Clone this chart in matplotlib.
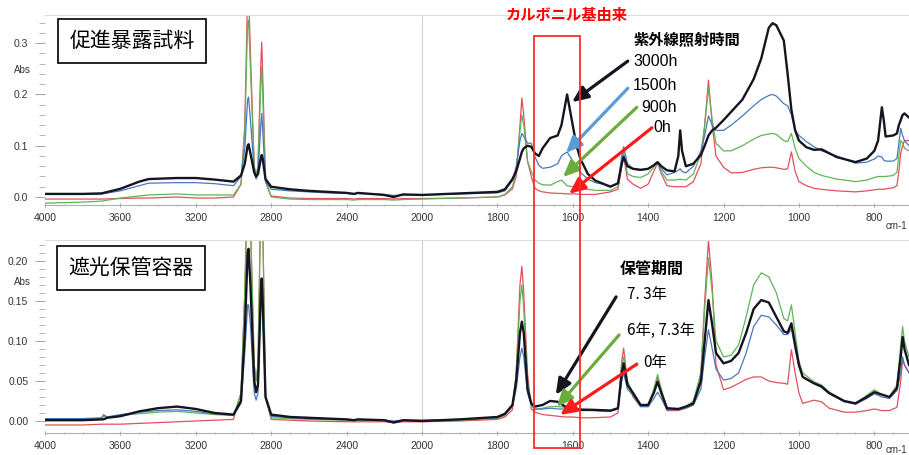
import numpy as np
import matplotlib
matplotlib.use('Agg')
import matplotlib.pyplot as plt
from matplotlib.ticker import FixedLocator
from matplotlib.transforms import blended_transform_factory
from matplotlib.patches import Rectangle

plt.rcParams['font.family'] = ['Liberation Sans', 'Noto Sans CJK JP', 'DejaVu Sans']

# ---- 促進暴露試料 (上段) ----
wn_top = [4000, 3800, 3700, 3600, 3500, 3450, 3300, 3200, 3100, 3000,
          2960, 2940, 2925, 2920, 2910, 2890, 2880, 2870, 2855, 2850, 2845, 2830, 2800,
          2700, 2600, 2500, 2400, 2360, 2340, 2200, 2150, 2100, 2000, 1900, 1800,
          1780, 1760, 1750, 1740, 1735, 1730, 1720, 1710, 1700, 1690, 1680, 1660,
          1640, 1630, 1615, 1600, 1590, 1580, 1560, 1540, 1500, 1480, 1470, 1465,
          1455, 1440, 1420, 1400, 1385, 1375, 1365, 1350, 1330, 1320, 1315, 1310,
          1300, 1280, 1260, 1250, 1240, 1230, 1220, 1200, 1180, 1150, 1120, 1100,
          1080, 1070, 1060, 1040, 1030, 1020, 1010, 1000, 980, 960, 940, 900, 850,
          820, 800, 790, 780, 775, 770, 750, 740, 735, 730, 725, 720, 708]
top_3000h = [.006, .006, .007, .016, .030, .035, .037, .037, .034, .030,
             .042, .065, .100, .103, .085, .048, .040, .045, .075, .082, .075, .035, .020,
             .015, .012, .010, .008, .006, .008, .004, .000, .005, .004, .007, .010,
             .015, .035, .050, .075, .088, .095, .100, .098, .085, .080, .095, .115,
             .120, .140, .200, .140, .100, .075, .045, .032, .020, .027, .065, .078,
             .060, .055, .053, .055, .062, .068, .060, .052, .050, .080, .130, .090,
             .060, .065, .082, .100, .120, .130, .135, .150, .166, .190, .230, .270,
             .330, .339, .335, .305, .240, .170, .130, .110, .097, .092, .093, .078, .068,
             .075, .090, .110, .175, .150, .118, .120, .124, .140, .150, .160, .163, .155]
top_1500h = [.006, .005, .006, .012, .022, .027, .028, .028, .026, .022,
             .040, .095, .190, .195, .150, .050, .035, .045, .140, .163, .130, .030, .015,
             .012, .010, .008, .007, .006, .007, .005, .003, .004, .004, .006, .008,
             .012, .032, .060, .110, .124, .118, .105, .105, .078, .062, .056, .058,
             .065, .080, .088, .070, .058, .048, .035, .028, .022, .025, .080, .098,
             .065, .055, .052, .055, .062, .066, .055, .043, .048, .052, .055, .050,
             .047, .060, .090, .120, .158, .140, .130, .130, .140, .158, .178, .190,
             .198, .200, .197, .182, .178, .160, .130, .120, .108, .098, .090, .080, .066,
             .068, .074, .080, .078, .072, .070, .070, .075, .105, .134, .120, .110, .100]
top_900h = [-.012, -.010, -.008, -.002, .002, .004, .006, .004, .004, .004,
            .025, .130, .340, .345, .250, .060, .040, .060, .220, .255, .200, .030, .000,
            -.004, -.005, -.005, -.005, -.006, -.005, -.005, -.006, -.005, -.004, -.002, .000,
            .005, .020, .050, .130, .160, .140, .070, .050, .033, .027, .024, .023,
            .030, .033, .022, .020, .018, .017, .015, .013, .013, .020, .070, .088,
            .045, .040, .038, .045, .058, .066, .050, .033, .033, .034, .035, .034,
            .033, .045, .085, .140, .212, .150, .105, .090, .090, .100, .113, .120,
            .123, .124, .122, .110, .108, .124, .095, .075, .060, .048, .042, .035, .030,
            .033, .038, .040, .040, .040, .040, .042, .048, .080, .110, .105, .095, .090]
top_0h = [-.004, -.004, -.004, -.003, -.002, -.002, .000, -.002, -.002, .000,
          .025, .140, .400, .400, .280, .060, .040, .060, .260, .302, .240, .030, .002,
          -.002, -.003, -.003, -.003, -.004, -.003, -.003, -.004, -.003, -.003, -.002, .000,
          .004, .016, .040, .140, .193, .160, .070, .040, .017, .012, .010, .008,
          .007, .007, .006, .006, .006, .005, .005, .005, .010, .015, .060, .080,
          .035, .025, .017, .025, .050, .066, .045, .022, .020, .020, .020, .020,
          .020, .030, .065, .140, .228, .140, .080, .058, .047, .048, .054, .057,
          .058, .058, .057, .054, .055, .088, .050, .030, .022, .017, .015, .012, .010,
          .012, .014, .015, .015, .015, .016, .018, .022, .050, .085, .100, .110, .110]

# ---- 遮光保管容器 (下段) ----
wn_bot = [4000, 3800, 3700, 3690, 3670, 3600, 3500, 3400, 3300, 3200, 3100, 3000,
          2960, 2940, 2925, 2920, 2910, 2890, 2880, 2870, 2855, 2850, 2845, 2830, 2800,
          2700, 2600, 2400, 2360, 2340, 2200, 2150, 2100, 2000, 1900, 1800,
          1780, 1760, 1750, 1740, 1735, 1730, 1720, 1710, 1700, 1680, 1660, 1640,
          1620, 1600, 1580, 1550, 1500, 1480, 1470, 1465, 1455, 1440, 1420, 1400,
          1385, 1375, 1365, 1350, 1320, 1300, 1280, 1260, 1250, 1240, 1230, 1220,
          1200, 1180, 1160, 1140, 1120, 1100, 1080, 1060, 1040, 1030, 1020, 1010,
          1000, 990, 960, 940, 920, 880, 850, 820, 800, 780, 760, 740, 730, 725, 720, 708]
bot_73y_k = [.001, .001, .002, .002, .004, .006, .012, .016, .018, .015, .010, .008,
             .025, .110, .210, .215, .170, .050, .036, .045, .160, .178, .150, .030, .008,
             .005, .004, .002, .001, .002, .001, -.002, .001, .000, .002, .005,
             .009, .020, .050, .110, .124, .110, .040, .022, .018, .020, .025, .024,
             .018, .015, .014, .014, .013, .016, .060, .072, .045, .035, .020, .020,
             .035, .049, .035, .016, .015, .018, .022, .050, .100, .151, .120, .085,
             .072, .075, .085, .110, .140, .151, .148, .130, .112, .110, .122, .095,
             .070, .055, .047, .043, .035, .025, .022, .030, .036, .033, .030, .041, .080, .105, .090, .070]
bot_6y_b = [.003, .003, .004, .008, .005, .008, .011, .013, .014, .012, .009, .007,
            .022, .085, .145, .145, .120, .035, .026, .035, .150, .170, .140, .030, .006,
            .004, .003, .002, .001, .002, .001, .000, .001, .001, .002, .004,
            .008, .018, .040, .080, .091, .080, .035, .020, .015, .015, .016, .015,
            .015, .014, .013, .013, .012, .015, .050, .060, .040, .032, .018, .018,
            .028, .036, .028, .014, .014, .016, .020, .040, .080, .114, .090, .065,
            .051, .053, .060, .085, .118, .132, .130, .120, .108, .108, .115, .090,
            .068, .055, .047, .042, .034, .024, .021, .028, .034, .030, .028, .038, .060, .080, .070, .060]
bot_6y_g = [.002, .002, .003, .006, .005, .007, .009, .011, .012, .010, .008, .007,
            .035, .160, .300, .300, .250, .070, .050, .070, .280, .300, .250, .030, .004,
            .003, .002, .001, .000, .001, .000, -.001, .000, .000, .001, .003,
            .007, .018, .060, .150, .170, .140, .050, .020, .014, .016, .018, .018,
            .017, .016, .015, .014, .013, .016, .070, .080, .050, .035, .018, .020,
            .040, .058, .040, .015, .015, .018, .025, .060, .140, .204, .160, .100,
            .080, .082, .095, .130, .170, .185, .180, .160, .128, .125, .145, .110,
            .075, .060, .049, .045, .036, .025, .022, .032, .039, .033, .030, .045, .095, .118, .100, .080]
bot_0y = [-.005, -.005, -.004, -.004, -.004, -.004, -.003, -.002, -.001, .000, .001, .002,
          .035, .160, .300, .300, .250, .070, .050, .070, .280, .300, .250, .030, .002,
          .001, .000, -.001, -.001, -.001, -.001, -.002, -.001, -.001, .000, .002,
          .005, .014, .060, .170, .193, .160, .060, .015, .011, .008, .007, .006,
          .005, .005, .004, .004, .005, .010, .075, .091, .050, .030, .018, .018,
          .035, .055, .035, .013, .013, .016, .020, .060, .150, .226, .170, .070,
          .039, .042, .047, .052, .055, .055, .050, .048, .047, .046, .089, .060,
          .035, .022, .026, .024, .016, .011, .011, .013, .015, .013, .013, .017, .050, .076, .070, .060]

top_labels = ['3000h', '1500h', '900h', '0h']
bot_labels = ['7. 3年', '6年, 7.3年', '0年']


def fwd(x):
    x = np.asarray(x, dtype=float)
    return np.where(x >= 2000, x / 2 + 1000, x)


def inv(u):
    u = np.asarray(u, dtype=float)
    return np.where(u >= 2000, (u - 1000) * 2, u)


def px(x, y):
    return x / 909, 1 - y / 455


RED = '#e2505e'
GREEN = '#62b35a'
BLUE = '#4a78bd'
BLACK = '#15151f'

fig = plt.figure(figsize=(9.09, 4.55), dpi=100)
ax1 = fig.add_axes([45 / 909, 1 - 205 / 455, 1 - 45 / 909, 190 / 455])
ax2 = fig.add_axes([45 / 909, 1 - 433 / 455, 1 - 45 / 909, 193 / 455])

xt = [4000, 3600, 3200, 2800, 2400, 2000, 1800, 1600, 1400, 1200, 1000, 800]


def setup(ax, ylim, major, minor, fmt):
    ax.set_xscale('function', functions=(fwd, inv))
    ax.set_xlim(4000, 708)
    ax.set_ylim(*ylim)
    ax.xaxis.set_major_locator(FixedLocator(xt))
    ax.xaxis.set_minor_locator(FixedLocator(list(range(3900, 2000, -100)) + list(range(1950, 700, -50))))
    ax.yaxis.set_major_locator(FixedLocator(major))
    ax.yaxis.set_minor_locator(FixedLocator(minor))
    ax.set_yticklabels([fmt % v for v in major])
    ax.set_xticklabels([str(v) for v in xt])
    ax.tick_params(axis='both', which='both', colors='#aaaaaa', labelcolor='#333333', labelsize=7.5)
    ax.tick_params(axis='y', which='major', length=7, pad=5)
    ax.tick_params(axis='y', which='minor', length=4)
    ax.tick_params(axis='x', which='major', length=3, direction='inout', pad=4)
    ax.tick_params(axis='x', which='minor', length=2, direction='inout')
    for s in ['right', 'left']:
        ax.spines[s].set_visible(False)
    ax.spines['top'].set_color('#dddddd')
    ax.spines['bottom'].set_color('#b0b0b0')
    ax.axvline(2000, color='#d0d0d0', lw=0.8, zorder=0)


setup(ax1, (-0.0156, 0.355), [0.0, 0.1, 0.2, 0.3], list(np.arange(0, 0.35, 0.02)), '%.1f')
setup(ax2, (-0.015, 0.226), [0.0, 0.05, 0.10, 0.15, 0.20], list(np.arange(0, 0.225, 0.01)), '%.2f')

ax1.plot(wn_top, top_0h, color=RED, lw=0.9)
ax1.plot(wn_top, top_900h, color=GREEN, lw=0.9)
ax1.plot(wn_top, top_1500h, color=BLUE, lw=0.9)
ax1.plot(wn_top, top_3000h, color=BLACK, lw=1.7)

ax2.plot(wn_bot, bot_0y, color=RED, lw=0.9)
ax2.plot(wn_bot, bot_6y_g, color=GREEN, lw=0.9)
ax2.plot(wn_bot, bot_6y_b, color=BLUE, lw=0.9)
ax2.plot(wn_bot, bot_73y_k, color=BLACK, lw=1.7)

# Abs label / cm-1
fig.text(*px(22, 70), 'Abs', fontsize=7, color='#333333', ha='center', va='center')
fig.text(*px(22, 282), 'Abs', fontsize=7, color='#333333', ha='center', va='center')
fig.text(*px(907, 226), 'cm-1', fontsize=7, color='#333333', ha='right', va='center')
fig.text(*px(907, 450), 'cm-1', fontsize=7, color='#333333', ha='right', va='center')

# title boxes
box = dict(boxstyle='square,pad=0.55', fc='white', ec='black', lw=1.2)
fig.text(*px(132, 41), '促進暴露試料', fontsize=15, ha='center', va='center', bbox=box,
         family=['Noto Sans CJK JP'])
fig.text(*px(131, 268), '遮光保管容器', fontsize=15, ha='center', va='center', bbox=box,
         family=['Noto Sans CJK JP'])

# carbonyl region
tr = blended_transform_factory(ax1.transData, fig.transFigure)
y0 = px(0, 448)[1]
y1 = px(0, 36)[1]
rect = Rectangle((1702, y0), 1582 - 1702, y1 - y0, transform=tr, fill=False,
                 ec='#ff2a2a', lw=1.3, clip_on=False)
fig.add_artist(rect)
fig.text(*px(567, 15), 'カルボニル基由来', fontsize=11, color='#ff0000', weight='bold',
         ha='center', va='center', family=['Noto Sans CJK JP'])

# top annotations
fig.text(*px(687, 40), '紫外線照射時間', fontsize=11, weight='bold', ha='center', va='center',
         family=['Noto Sans CJK JP'])
top_text_pos = [(633, 62), (633, 85), (641, 107), (653, 128)]
for (tx, ty), lab in zip(top_text_pos, top_labels):
    fig.text(*px(tx, ty), lab, fontsize=11.5, ha='left', va='center', family=['Liberation Sans Narrow', 'Liberation Sans'])

arrow_cols = [BLACK, '#5b9bd5', '#6aac3e', '#ff1a1a']
top_arrows = [((1454, 0.265), (1602, 0.185)),
              ((1454, 0.212), (1618, 0.086)),
              ((1430, 0.175), (1626, 0.039)),
              ((1390, 0.135), (1610, 0.006))]
for (tail, head), c in zip(top_arrows, arrow_cols):
    ax1.annotate('', xy=head, xytext=tail, annotation_clip=False,
                 arrowprops=dict(arrowstyle='-|>,head_width=0.35,head_length=0.8', color=c,
                                 lw=2.3, shrinkA=0, shrinkB=0, mutation_scale=12))

# bottom annotations
fig.text(*px(652, 269), '保管期間', fontsize=11.5, weight='bold', ha='center', va='center',
         family=['Noto Sans CJK JP'])
bot_text_pos = [(627, 295), (627, 330), (643, 362)]
for (tx, ty), lab in zip(bot_text_pos, bot_labels):
    fig.text(*px(tx, ty), lab, fontsize=11, ha='left', va='center', family=['Noto Sans CJK JP'])

bot_arrows = [((1485, 0.155), (1645, 0.0325)),
              ((1477, 0.1075), (1642, 0.0175)),
              ((1430, 0.071), (1634, 0.0075))]
for (tail, head), c in zip(bot_arrows, [BLACK, '#6aac3e', '#ff1a1a']):
    ax2.annotate('', xy=head, xytext=tail, annotation_clip=False,
                 arrowprops=dict(arrowstyle='-|>,head_width=0.35,head_length=0.8', color=c,
                                 lw=2.3, shrinkA=0, shrinkB=0, mutation_scale=12))

fig.savefig('out.png', dpi=100)
